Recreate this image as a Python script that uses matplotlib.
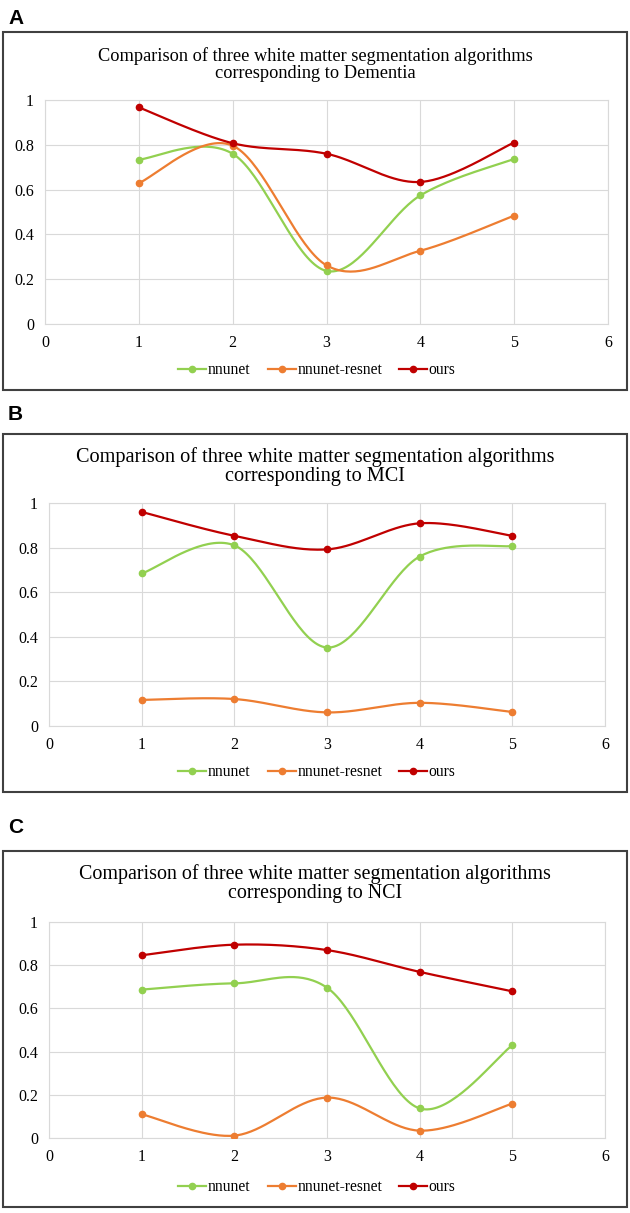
import numpy as np
import matplotlib
matplotlib.use("Agg")
import matplotlib.pyplot as plt
from matplotlib.patches import Rectangle
from matplotlib.lines import Line2D

x = [1, 2, 3, 4, 5]
names = ["nnunet", "nnunet-resnet", "ours"]
colors = ["#92D050", "#ED7D31", "#C00000"]

# panel A - Dementia
dem_nnunet = [0.734, 0.760, 0.237, 0.574, 0.737]
dem_resnet = [0.629, 0.796, 0.262, 0.327, 0.484]
dem_ours = [0.967, 0.807, 0.760, 0.634, 0.810]
# panel B - MCI
mci_nnunet = [0.684, 0.810, 0.352, 0.760, 0.807]
mci_resnet = [0.117, 0.121, 0.061, 0.104, 0.063]
mci_ours = [0.960, 0.853, 0.792, 0.909, 0.853]
# panel C - NCI
nci_nnunet = [0.687, 0.716, 0.696, 0.137, 0.429]
nci_resnet = [0.110, 0.011, 0.187, 0.034, 0.159]
nci_ours = [0.846, 0.895, 0.870, 0.769, 0.679]

titles = ["Comparison of three white matter segmentation algorithms\ncorresponding to Dementia",
          "Comparison of three white matter segmentation algorithms\ncorresponding to MCI",
          "Comparison of three white matter segmentation algorithms\ncorresponding to NCI"]
letters = ["A", "B", "C"]

W, H = 630, 1213


def smooth(xs, ys, n=40):
    # excel-like smoothed line (bezier through points)
    p = np.column_stack([xs, ys]).astype(float)
    p = np.vstack([p[0], p, p[-1]])
    out = []
    t = np.linspace(0, 1, n)[:, None]
    for i in range(1, len(p) - 2):
        p0, p1, p2, p3 = p[i - 1], p[i], p[i + 1], p[i + 2]
        c1 = p1 + (p2 - p0) / 6
        c2 = p2 - (p3 - p1) / 6
        seg = (1 - t) ** 3 * p1 + 3 * (1 - t) ** 2 * t * c1 + 3 * (1 - t) * t ** 2 * c2 + t ** 3 * p2
        out.append(seg)
    out = np.vstack(out)
    return out[:, 0], out[:, 1]


def fx(px): return px / W
def fy(py): return 1 - py / H


fig = plt.figure(figsize=(6.3, 12.13), dpi=100)

panels = [
    dict(data=[dem_nnunet, dem_resnet, dem_ours], box=(3, 32, 627, 390), ax=(45, 100, 608, 324),
         title_y=64.5, leg_y=370, letter_y=9, tsize=13.2),
    dict(data=[mci_nnunet, mci_resnet, mci_ours], box=(3, 434, 627, 792), ax=(49, 503, 605, 726),
         title_y=467, leg_y=772, letter_y=405, tsize=14.6),
    dict(data=[nci_nnunet, nci_resnet, nci_ours], box=(3, 851, 627, 1207), ax=(49, 922, 605, 1138),
         title_y=884, leg_y=1187, letter_y=818, tsize=14.4),
]

serif = "Liberation Serif"

for k, pn in enumerate(panels):
    bx0, by0, bx1, by1 = pn["box"]
    fig.patches.append(Rectangle((fx(bx0), fy(by1)), fx(bx1 - bx0), (by1 - by0) / H,
                                 transform=fig.transFigure, fill=False, edgecolor="#404040", lw=1.5))
    fig.text(fx(8), fy(pn["letter_y"]), letters[k], family="Liberation Sans", weight="bold",
             fontsize=15, va="top", ha="left")
    fig.text(fx(315), fy(pn["title_y"]), titles[k], family=serif, fontsize=pn["tsize"],
             ha="center", va="center", linespacing=1.0)

    ax0, ay0, ax1, ay1 = pn["ax"]
    ax = fig.add_axes([fx(ax0), fy(ay1), fx(ax1 - ax0), (ay1 - ay0) / H])
    handles = []
    for ys, name, c in zip(pn["data"], names, colors):
        sx, sy = smooth(x, ys)
        ax.plot(sx, sy, color=c, lw=1.6, zorder=3)
        ax.plot(x, ys, "o", color=c, ms=4.5, zorder=4)
        handles.append(Line2D([0], [0], color=c, lw=1.6, marker="o", ms=4.5))
    ax.set_xlim(0, 6)
    ax.set_ylim(0, 1)
    ax.set_xticks(range(0, 7))
    ax.set_yticks([0, 0.2, 0.4, 0.6, 0.8, 1])
    ax.set_yticklabels(["0", "0.2", "0.4", "0.6", "0.8", "1"])
    ax.grid(True, color="#D9D9D9", lw=0.8)
    ax.set_axisbelow(True)
    for s in ax.spines.values():
        s.set_color("#D9D9D9")
        s.set_linewidth(0.8)
    ax.tick_params(length=0, labelsize=11.5, pad=8)
    for lab in ax.get_xticklabels() + ax.get_yticklabels():
        lab.set_family(serif)
    leg = ax.legend(handles, names, loc="center", bbox_to_anchor=(fx(317), fy(pn["leg_y"])),
                    bbox_transform=fig.transFigure, ncol=3, frameon=False,
                    prop={"family": serif, "size": 11.2}, handlelength=1.8,
                    handletextpad=0.1, columnspacing=1.1)

fig.savefig("out.png", dpi=100)
